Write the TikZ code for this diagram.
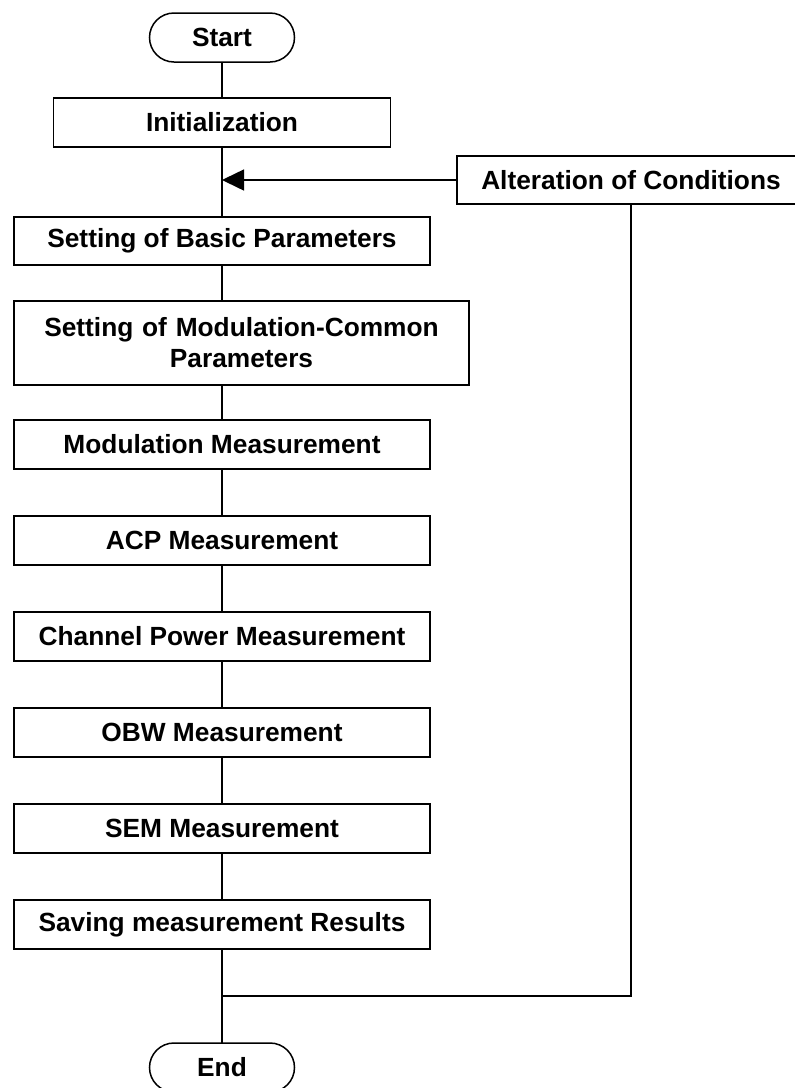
\documentclass[tikz,border=0pt]{standalone}
\usepackage{fontspec}
\setmainfont{Liberation Sans}
\usepackage{tikz}
\usetikzlibrary{shapes,arrows.meta,positioning,calc}

\begin{document}
\begin{tikzpicture}[x=1pt, y=-1pt, node distance=47pt, line width=1.5pt, font=\bfseries\fontsize{26.3}{31}\selectfont]
    % Define styles
    \tikzstyle{stepbox} = [rectangle, draw, fill=white, inner sep=0pt, outer sep=0pt, minimum width=416pt, minimum height=49pt, text centered]
    \tikzstyle{terminal} = [rectangle, rounded corners=24.5pt, draw, fill=white, inner sep=0pt, outer sep=0pt, minimum width=145pt, minimum height=49pt]
    \tikzstyle{arrow} = [-{Triangle[length=22pt,width=21pt]}]
    \useasboundingbox (0,0) rectangle (795,1088);

    % Start and setup
    \node [terminal] (start) at (222,37.5) {Start};
    \node [stepbox, minimum width=337pt, below=36pt of start] (init) {Initialization};
    \node [stepbox, minimum height=48pt, below=70pt of init] (basic) {Setting of Basic Parameters};
    \node [stepbox, minimum width=455pt, minimum height=84pt, text width=440pt, align=center, below=36pt of basic.south west, anchor=north west] (modcommon) {Setting of Modulation-Common\\Parameters};

    % Measurements
    \node [stepbox, below=35pt of modcommon.south west, anchor=north west] (modmeas) {Modulation Measurement};
    \node [stepbox, below=of modmeas] (acp) {ACP Measurement};
    \node [stepbox, below=of acp] (chpower) {Channel Power Measurement};
    \node [stepbox, below=of chpower] (obw) {OBW Measurement};
    \node [stepbox, below=of obw] (sem) {SEM Measurement};
    \node [stepbox, below=of sem] (saving) {Saving measurement Results};
    \node [terminal, below=94pt of saving] (end) {End};

    % Loop back
    \node [stepbox, minimum width=348pt, minimum height=48pt] (alter) at (631,180) {Alteration of Conditions};

    % Lines
    \draw (start) -- (init);
    \draw (init) -- (basic);
    \draw (basic) -- (basic |- modcommon.north);
    \draw (modcommon.south -| modmeas) -- (modmeas);
    \draw (modmeas) -- (acp);
    \draw (acp) -- (chpower);
    \draw (chpower) -- (obw);
    \draw (obw) -- (sem);
    \draw (sem) -- (saving);
    \draw (saving) -- (end);
    \coordinate (back) at ($(saving.south)!0.5!(end.north)$);
    \draw (alter) -- (alter |- back) -- (back);
    \draw [arrow] (alter) -- (alter -| init);
\end{tikzpicture}
\end{document}
